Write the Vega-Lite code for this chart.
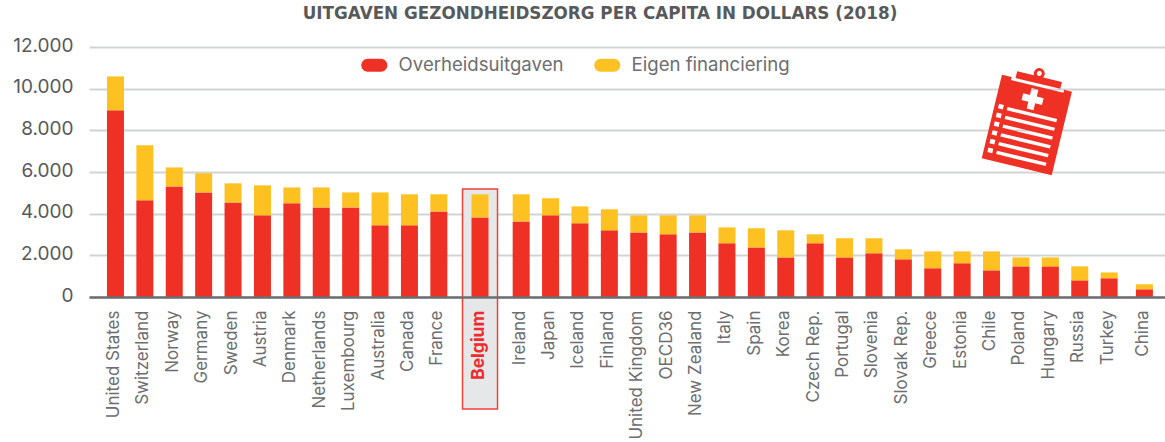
{
"$schema":"https://vega.github.io/schema/vega-lite/v6.json",
"width":1076,"height":250,
"autosize":"none",
"padding":{"left":89,"top":47,"right":0,"bottom":145},
"background":"white",
"config":{"view":{"stroke":null},"font":"Inter"},
"title":{"text":"UITGAVEN GEZONDHEIDSZORG PER CAPITA IN DOLLARS (2018)","font":"DejaVu Sans","fontSize":16.8,"fontWeight":700,"color":"#58595b","anchor":"middle","dx":-27,"offset":13},
"datasets":{
"bars":[
{"country":"United States","type":"Overheidsuitgaven","value":8960},{"country":"United States","type":"Eigen financiering","value":1630},
{"country":"Switzerland","type":"Overheidsuitgaven","value":4640},{"country":"Switzerland","type":"Eigen financiering","value":2640},
{"country":"Norway","type":"Overheidsuitgaven","value":5310},{"country":"Norway","type":"Eigen financiering","value":910},
{"country":"Germany","type":"Overheidsuitgaven","value":5020},{"country":"Germany","type":"Eigen financiering","value":920},
{"country":"Sweden","type":"Overheidsuitgaven","value":4540},{"country":"Sweden","type":"Eigen financiering","value":916},
{"country":"Austria","type":"Overheidsuitgaven","value":3920},{"country":"Austria","type":"Eigen financiering","value":1440},
{"country":"Denmark","type":"Overheidsuitgaven","value":4500},{"country":"Denmark","type":"Eigen financiering","value":760},
{"country":"Netherlands","type":"Overheidsuitgaven","value":4300},{"country":"Netherlands","type":"Eigen financiering","value":960},
{"country":"Luxembourg","type":"Overheidsuitgaven","value":4300},{"country":"Luxembourg","type":"Eigen financiering","value":720},
{"country":"Australia","type":"Overheidsuitgaven","value":3440},{"country":"Australia","type":"Eigen financiering","value":1580},
{"country":"Canada","type":"Overheidsuitgaven","value":3440},{"country":"Canada","type":"Eigen financiering","value":1490},
{"country":"France","type":"Overheidsuitgaven","value":4110},{"country":"France","type":"Eigen financiering","value":820},
{"country":"Belgium","type":"Overheidsuitgaven","value":3820},{"country":"Belgium","type":"Eigen financiering","value":1110},
{"country":"Ireland","type":"Overheidsuitgaven","value":3630},{"country":"Ireland","type":"Eigen financiering","value":1300},
{"country":"Japan","type":"Overheidsuitgaven","value":3920},{"country":"Japan","type":"Eigen financiering","value":820},
{"country":"Iceland","type":"Overheidsuitgaven","value":3540},{"country":"Iceland","type":"Eigen financiering","value":810},
{"country":"Finland","type":"Overheidsuitgaven","value":3200},{"country":"Finland","type":"Eigen financiering","value":1010},
{"country":"United Kingdom","type":"Overheidsuitgaven","value":3100},{"country":"United Kingdom","type":"Eigen financiering","value":820},
{"country":"OECD36","type":"Overheidsuitgaven","value":3010},{"country":"OECD36","type":"Eigen financiering","value":910},
{"country":"New Zealand","type":"Overheidsuitgaven","value":3100},{"country":"New Zealand","type":"Eigen financiering","value":820},
{"country":"Italy","type":"Overheidsuitgaven","value":2580},{"country":"Italy","type":"Eigen financiering","value":760},
{"country":"Spain","type":"Overheidsuitgaven","value":2380},{"country":"Spain","type":"Eigen financiering","value":920},
{"country":"Korea","type":"Overheidsuitgaven","value":1900},{"country":"Korea","type":"Eigen financiering","value":1300},
{"country":"Czech Rep.","type":"Overheidsuitgaven","value":2580},{"country":"Czech Rep.","type":"Eigen financiering","value":430},
{"country":"Portugal","type":"Overheidsuitgaven","value":1900},{"country":"Portugal","type":"Eigen financiering","value":920},
{"country":"Slovenia","type":"Overheidsuitgaven","value":2100},{"country":"Slovenia","type":"Eigen financiering","value":720},
{"country":"Slovak Rep.","type":"Overheidsuitgaven","value":1810},{"country":"Slovak Rep.","type":"Eigen financiering","value":480},
{"country":"Greece","type":"Overheidsuitgaven","value":1380},{"country":"Greece","type":"Eigen financiering","value":810},
{"country":"Estonia","type":"Overheidsuitgaven","value":1620},{"country":"Estonia","type":"Eigen financiering","value":570},
{"country":"Chile","type":"Overheidsuitgaven","value":1280},{"country":"Chile","type":"Eigen financiering","value":910},
{"country":"Poland","type":"Overheidsuitgaven","value":1470},{"country":"Poland","type":"Eigen financiering","value":430},
{"country":"Hungary","type":"Overheidsuitgaven","value":1470},{"country":"Hungary","type":"Eigen financiering","value":430},
{"country":"Russia","type":"Overheidsuitgaven","value":800},{"country":"Russia","type":"Eigen financiering","value":670},
{"country":"Turkey","type":"Overheidsuitgaven","value":900},{"country":"Turkey","type":"Eigen financiering","value":280},
{"country":"China","type":"Overheidsuitgaven","value":370},{"country":"China","type":"Eigen financiering","value":240}
],
"highlight":[{"country":"Belgium","top":5184,"bottom":-5376}],
"icon":[{"name":"clipboard"}]
},
"encoding":{
"x":{"field":"country","type":"nominal","title":null,
"scale":{"type":"band","paddingInner":0,"paddingOuter":0,"domain":["_0","_1","_2","_3","United States","_5","_6","_7","_8","Switzerland","_10","_11","_12","_13","Norway","_15","_16","_17","_18","Germany","_20","_21","_22","_23","Sweden","_25","_26","_27","_28","Austria","_30","_31","_32","_33","Denmark","_35","_36","_37","_38","Netherlands","_40","_41","_42","_43","Luxembourg","_45","_46","_47","_48","Australia","_50","_51","_52","_53","Canada","_55","_56","_57","_58","France","_60","_61","_62","_63","_64","_65","Belgium","_67","_68","_69","_70","_71","_72","Ireland","_74","_75","_76","_77","Japan","_79","_80","_81","_82","Iceland","_84","_85","_86","_87","Finland","_89","_90","_91","_92","United Kingdom","_94","_95","_96","_97","OECD36","_99","_100","_101","_102","New Zealand","_104","_105","_106","_107","Italy","_109","_110","_111","_112","Spain","_114","_115","_116","_117","Korea","_119","_120","_121","_122","Czech Rep.","_124","_125","_126","_127","Portugal","_129","_130","_131","_132","Slovenia","_134","_135","_136","_137","Slovak Rep.","_139","_140","_141","_142","Greece","_144","_145","_146","_147","Estonia","_149","_150","_151","_152","Chile","_154","_155","_156","_157","Poland","_159","_160","_161","_162","Hungary","_164","_165","_166","_167","Russia","_169","_170","_171","_172","Turkey","_174","_175","_176","_177","_178","China","_180","_181","_182"]},
"axis":{"values":["United States","Switzerland","Norway","Germany","Sweden","Austria","Denmark","Netherlands","Luxembourg","Australia","Canada","France","Belgium","Ireland","Japan","Iceland","Finland","United Kingdom","OECD36","New Zealand","Italy","Spain","Korea","Czech Rep.","Portugal","Slovenia","Slovak Rep.","Greece","Estonia","Chile","Poland","Hungary","Russia","Turkey","China"],
"zindex":1,"ticks":false,"grid":false,"domainColor":"#6d6e71","domainWidth":2.5,"labelAngle":270,"labelAlign":"right","labelBaseline":"middle","labelPadding":13,"labelOffset":-1.5,"labelFont":"Inter","labelLimit":300,"labelOverlap":false,"labelBound":false,"labelFlush":false,
"labelFontSize":{"condition":{"test":"datum.value==='Belgium'","value":17.5},"value":17},
"labelColor":{"condition":{"test":"datum.value==='Belgium'","value":"#ef2b2d"},"value":"#6d6e71"},
"labelFontWeight":{"condition":{"test":"datum.value==='Belgium'","value":700},"value":400}}},
"y":{"type":"quantitative","scale":{"domain":[0,12000],"nice":false},"title":null,
"axis":{"values":[0,2000,4000,6000,8000,10000,12000],"zindex":0,"domain":false,"ticks":false,"grid":true,"gridColor":"#d1d3d4","gridWidth":2,"labelFontSize":19,"labelFont":"Inter","labelColor":"#58595b","labelPadding":16,"labelOffset":-2,"labelExpr":"replace(format(datum.value,','),',','.')"}}
},
"layer":[
{"data":{"name":"highlight"},"mark":{"type":"bar","size":35,"fill":"#e6e7e8","stroke":"#f0403a","strokeWidth":1.5,"clip":false},
"encoding":{"y":{"field":"top","type":"quantitative"},"y2":{"field":"bottom"}}},
{"data":{"name":"bars"},"mark":{"type":"bar","size":17},
"encoding":{"y":{"field":"value","type":"quantitative","stack":"zero"},
"color":{"field":"type","type":"nominal","scale":{"domain":["Overheidsuitgaven","Eigen financiering"],"range":["#ef3024","#fdc221"]},
"legend":{"title":null,"orient":"none","direction":"horizontal","legendX":276,"legendY":9,"symbolType":"M-1,-1 H1 A1,1 0 0 1 1,1 H-1 A1,1 0 0 1 -1,-1 Z","symbolSize":169,"symbolStrokeWidth":0,"symbolOpacity":1,"labelFontSize":18.6,"labelFont":"Inter","labelColor":"#6d6e71","labelOffset":15,"labelLimit":300,"columnPadding":30}}}},
{"data":{"name":"icon"},"mark":{"type":"point","filled":true,"opacity":1,"size":4,"angle":13.6,"color":"#ef3024","shape":"M-36,-43 H-26 V-40 H28 V-43 H36 V43 H-36 Z M-22,-50 H24 V-43 H-22 Z M5.5,-53 A5.5,5.5 0 1 1 -5.5,-53 A5.5,5.5 0 1 1 5.5,-53 Z M2.5,-53 A2.5,2.5 0 1 0 -2.5,-53 A2.5,2.5 0 1 0 2.5,-53 Z M-4,-37 V-30 H-11 V-23 H-4 V-16 H3 V-23 H10 V-30 H3 V-37 Z M-23,-13 V-9.5 H28 V-13 Z M-23,-4 V-0.5 H28 V-4 Z M-23,5 V8.5 H28 V5 Z M-23,14 V17.5 H28 V14 Z M-23,23 V26.5 H28 V23 Z M-23,32 V35.5 H28 V32 Z M-32,-14 V-9.5 H-27 V-14 Z M-32,-5 V-0.5 H-27 V-5 Z M-32,4 V8.5 H-27 V4 Z M-32,13 V17.5 H-27 V13 Z M-32,22 V26.5 H-27 V22 Z M-32,31 V35.5 H-27 V31 Z"},
"encoding":{"x":{"datum":"_159"},"y":{"datum":8256}}}
]
}
